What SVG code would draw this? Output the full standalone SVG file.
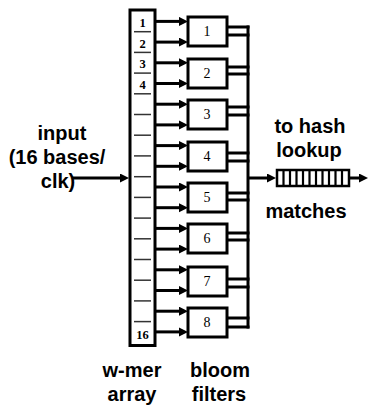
<svg xmlns="http://www.w3.org/2000/svg" width="371" height="406" viewBox="0 0 371 406">
<style>
.lbl{font-family:"Liberation Sans",Arial,sans-serif;font-weight:bold;font-size:20px;fill:#000;text-anchor:middle}
.num{font-family:"Liberation Serif","Times New Roman",serif;font-size:14px;fill:#000;text-anchor:middle}
.cell{font-family:"Liberation Serif","Times New Roman",serif;font-weight:bold;font-size:12.5px;fill:#000;text-anchor:middle}
.box{fill:#fff;stroke:#000;stroke-width:3}
.sep{stroke:#333;stroke-width:1.5}
.w{stroke:#000;stroke-width:3;fill:none}
.a{stroke:#000;stroke-width:3;fill:none;marker-end:url(#ah)}
</style>
<defs>
<marker id="ah" markerUnits="userSpaceOnUse" markerWidth="10" markerHeight="10" refX="3" refY="4.5" orient="auto">
<path d="M0,0 L9,4.5 L0,9 z" fill="#000"/>
</marker>
</defs>
<g id="labels">
<text class="lbl" x="62" y="140">input</text>
<text class="lbl" x="57" y="164">(16 bases/</text>
<text class="lbl" x="58" y="188">clk)</text>
<text class="lbl" x="310" y="133">to hash</text>
<text class="lbl" x="309" y="157">lookup</text>
<text class="lbl" x="306" y="218">matches</text>
<text class="lbl" x="132" y="377">w-mer</text>
<text class="lbl" x="132" y="401">array</text>
<text class="lbl" x="220" y="377">bloom</text>
<text class="lbl" x="219" y="401">filters</text>
</g>
<g id="wmer-array">
<rect x="130" y="10" width="25" height="335.5" fill="#fff" stroke="#000" stroke-width="3"/>
<g class="sep">
<line x1="134" y1="31.7" x2="151" y2="31.7"/>
<line x1="134" y1="52.4" x2="151" y2="52.4"/>
<line x1="134" y1="73.1" x2="151" y2="73.1"/>
<line x1="134" y1="93.8" x2="151" y2="93.8"/>
<line x1="134" y1="114.5" x2="151" y2="114.5"/>
<line x1="134" y1="135.2" x2="151" y2="135.2"/>
<line x1="134" y1="155.9" x2="151" y2="155.9"/>
<line x1="134" y1="176.7" x2="151" y2="176.7"/>
<line x1="134" y1="197.4" x2="151" y2="197.4"/>
<line x1="134" y1="218.1" x2="151" y2="218.1"/>
<line x1="134" y1="238.8" x2="151" y2="238.8"/>
<line x1="134" y1="259.5" x2="151" y2="259.5"/>
<line x1="134" y1="280.2" x2="151" y2="280.2"/>
<line x1="134" y1="300.9" x2="151" y2="300.9"/>
<line x1="134" y1="321.6" x2="151" y2="321.6"/>
</g>
<text class="cell" x="142.5" y="27">1</text>
<text class="cell" x="142.5" y="48">2</text>
<text class="cell" x="142.5" y="68">3</text>
<text class="cell" x="142.5" y="89">4</text>
<text class="cell" x="142.5" y="339">16</text>
</g>
<g id="bf1"><rect class="box" x="188" y="17" width="39" height="29"/><text class="num" x="207" y="36">1</text></g>
<g id="bf2"><rect class="box" x="188" y="59" width="39" height="29"/><text class="num" x="207" y="78">2</text></g>
<g id="bf3"><rect class="box" x="188" y="100" width="39" height="29"/><text class="num" x="207" y="119">3</text></g>
<g id="bf4"><rect class="box" x="188" y="142" width="39" height="29"/><text class="num" x="207" y="161">4</text></g>
<g id="bf5"><rect class="box" x="188" y="183" width="39" height="29"/><text class="num" x="207" y="202">5</text></g>
<g id="bf6"><rect class="box" x="188" y="224" width="39" height="29"/><text class="num" x="207" y="243">6</text></g>
<g id="bf7"><rect class="box" x="188" y="267" width="39" height="29"/><text class="num" x="207" y="286">7</text></g>
<g id="bf8"><rect class="box" x="188" y="308" width="39" height="29"/><text class="num" x="207" y="327">8</text></g>
<g id="fifo">
<rect x="277" y="170" width="72" height="16" fill="#fff" stroke="#000" stroke-width="2.5"/>
<g stroke="#000" stroke-width="2.2">
<line x1="283.5" y1="171" x2="283.5" y2="185"/>
<line x1="290" y1="171" x2="290" y2="185"/>
<line x1="296.5" y1="171" x2="296.5" y2="185"/>
<line x1="303" y1="171" x2="303" y2="185"/>
<line x1="309.5" y1="171" x2="309.5" y2="185"/>
<line x1="316" y1="171" x2="316" y2="185"/>
<line x1="322.5" y1="171" x2="322.5" y2="185"/>
<line x1="329" y1="171" x2="329" y2="185"/>
<line x1="335.5" y1="171" x2="335.5" y2="185"/>
<line x1="342" y1="171" x2="342" y2="185"/>
</g>
</g>
<g id="connectors">
<line class="a" x1="72" y1="178" x2="123" y2="178"/>
<line class="a" x1="155" y1="21.4" x2="182" y2="21.4"/>
<line class="a" x1="155" y1="42.1" x2="182" y2="42.1"/>
<line class="a" x1="155" y1="62.8" x2="182" y2="62.8"/>
<line class="a" x1="155" y1="83.5" x2="182" y2="83.5"/>
<line class="a" x1="155" y1="104.2" x2="182" y2="104.2"/>
<line class="a" x1="155" y1="124.9" x2="182" y2="124.9"/>
<line class="a" x1="155" y1="145.6" x2="182" y2="145.6"/>
<line class="a" x1="155" y1="166.3" x2="182" y2="166.3"/>
<line class="a" x1="155" y1="187" x2="182" y2="187"/>
<line class="a" x1="155" y1="207.7" x2="182" y2="207.7"/>
<line class="a" x1="155" y1="228.4" x2="182" y2="228.4"/>
<line class="a" x1="155" y1="249.1" x2="182" y2="249.1"/>
<line class="a" x1="155" y1="269.8" x2="182" y2="269.8"/>
<line class="a" x1="155" y1="290.5" x2="182" y2="290.5"/>
<line class="a" x1="155" y1="311.2" x2="182" y2="311.2"/>
<line class="a" x1="155" y1="331.9" x2="182" y2="331.9"/>
<g class="w">
<line x1="227" y1="27" x2="249.5" y2="27"/>
<line x1="227" y1="35" x2="249.5" y2="35"/>
<line x1="227" y1="67" x2="249.5" y2="67"/>
<line x1="227" y1="74" x2="249.5" y2="74"/>
<line x1="227" y1="107" x2="249.5" y2="107"/>
<line x1="227" y1="115" x2="249.5" y2="115"/>
<line x1="227" y1="153" x2="249.5" y2="153"/>
<line x1="227" y1="161" x2="249.5" y2="161"/>
<line x1="227" y1="193" x2="249.5" y2="193"/>
<line x1="227" y1="200" x2="249.5" y2="200"/>
<line x1="227" y1="233" x2="249.5" y2="233"/>
<line x1="227" y1="240" x2="249.5" y2="240"/>
<line x1="227" y1="279" x2="249.5" y2="279"/>
<line x1="227" y1="287" x2="249.5" y2="287"/>
<line x1="227" y1="318" x2="249.5" y2="318"/>
<line x1="227" y1="327" x2="249.5" y2="327"/>
<line x1="248" y1="25.5" x2="248" y2="328.5"/>
</g>
<line class="a" x1="248" y1="178" x2="270" y2="178"/>
<line class="a" x1="349" y1="178" x2="362" y2="178"/>
</g>
</svg>
